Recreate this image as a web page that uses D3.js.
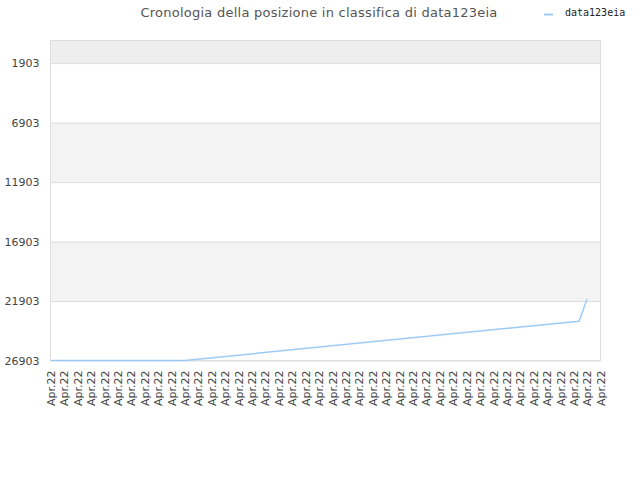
<!DOCTYPE html>
<html>
<head>
<meta charset="utf-8">
<script src="https://cdn.jsdelivr.net/npm/d3@7"></script>
<style>
  html, body { margin: 0; padding: 0; background: #fff; }
  svg { display: block; }
</style>
</head>
<body>
<svg id="chart" width="640" height="480"></svg>
<script>
// ---- data ----
const xLabels = Array.from({length: 42}, () => "Apr.22");
const yTicks = [1903, 6903, 11903, 16903, 21903, 26903];
const seriesName = "data123eia";
// x position in label units (0 = first label), rank value
const seriesX = [0, 10, 39.4, 40];
const seriesY = [26903, 26903, 23600, 21730];
const titleText = "Cronologia della posizione in classifica di data123eia";

(function () {
// ---- layout ----
const svg = d3.select("#chart");
const pLeft = 50.5, pRight = 600.5, pTop = 40.5, pBottom = 360.5;

const x = d3.scaleLinear().domain([0, xLabels.length - 1]).range([pLeft, pRight]);
const y = d3.scaleLinear().domain([0, 26903]).range([pTop, pBottom]);

// bands
const bandEdges = [0].concat(yTicks);
for (let i = 0; i < bandEdges.length - 1; i++) {
  const fill = i === 0 ? "#eeeeee" : (i % 2 === 0 ? "#f3f3f3" : "#ffffff");
  svg.append("rect")
    .attr("x", pLeft).attr("width", pRight - pLeft)
    .attr("y", y(bandEdges[i])).attr("height", y(bandEdges[i + 1]) - y(bandEdges[i]))
    .attr("fill", fill);
}

// y axis
const yAxis = d3.axisLeft(y).tickValues(yTicks).tickSize(-(pRight - pLeft)).tickPadding(11).tickFormat(d3.format("d"));
const gy = svg.append("g").attr("transform", `translate(${pLeft},0)`).call(yAxis);
gy.select(".domain").remove();
gy.selectAll(".tick line").attr("stroke", "#dddddd");
gy.selectAll(".tick text").attr("fill", "#444").style("font", "11px 'DejaVu Sans'");

// frame
svg.append("rect").attr("x", pLeft).attr("y", pTop).attr("width", pRight - pLeft).attr("height", pBottom - pTop)
  .attr("fill", "none").attr("stroke", "#dddddd");

// x axis labels
const xAxis = d3.axisBottom(x).tickValues(d3.range(xLabels.length)).tickSize(0).tickFormat(i => xLabels[i]);
const gx = svg.append("g").attr("transform", `translate(0,${pBottom})`).call(xAxis);
gx.select(".domain").remove();
gx.selectAll(".tick text")
  .attr("fill", "#444")
  .style("font", "11px 'DejaVu Sans'")
  .attr("text-anchor", "end")
  .attr("transform", "rotate(-90)")
  .attr("x", -10).attr("y", 0).attr("dy", "0.35em");

// line
const pts = seriesX.map((d, i) => [d, seriesY[i]]);
svg.append("path")
  .datum(pts)
  .attr("fill", "none")
  .attr("stroke", "#9ecbf5")
  .attr("stroke-width", 1.5)
  .attr("d", d3.line().x(d => x(d[0])).y(d => y(d[1])));

// title
svg.append("text").attr("x", 319).attr("y", 17).attr("text-anchor", "middle")
  .attr("fill", "#555").style("font", "13px 'DejaVu Sans'").style("letter-spacing", "0.25px").text(titleText);

// legend
svg.append("line").attr("x1", 544).attr("x2", 553).attr("y1", 14.5).attr("y2", 14.5)
  .attr("stroke", "#9ecbf5").attr("stroke-width", 2);
svg.append("text").attr("x", 565).attr("y", 16).attr("fill", "#222")
  .style("font", "10px 'DejaVu Sans Mono'").text(seriesName);
})();
</script>
</body>
</html>
